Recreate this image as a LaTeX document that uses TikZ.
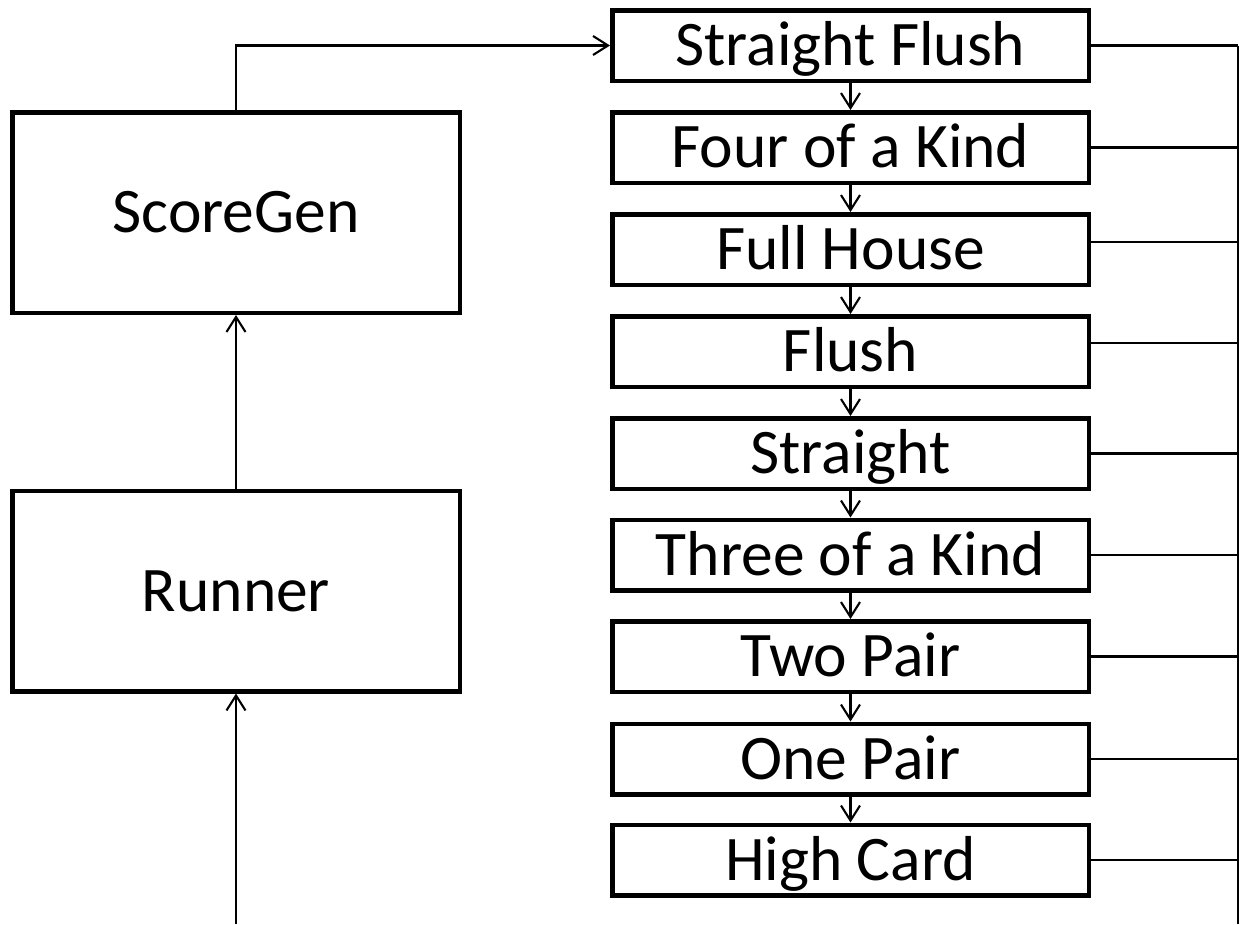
\documentclass[tikz,border=0pt]{standalone}
\usepackage{fontspec}
\setmainfont{Carlito}
\usetikzlibrary{arrows.meta}

\tikzset{
  block/.style={draw=black, line width=4.5pt, rectangle, inner sep=0pt,
    font=\fontsize{63.5}{72}\selectfont, text height=40.9pt, text depth=0pt,
    align=center},
  bigblock/.style={block, minimum width=447.5pt, minimum height=200.5pt},
  handblock/.style={block, minimum width=476.5pt, minimum height=70.5pt},
  flow/.style={line width=2.1pt, -{Straight Barb[length=15pt, width=19pt, line width=2.1pt]}},
  wire/.style={line width=2.1pt}
}

\begin{document}
\begin{tikzpicture}[x=1pt, y=-1pt]
  \useasboundingbox (0,0) rectangle (1246,924);
  \fill[white] (0,0) rectangle (1246,924);

  % program components
  \node[bigblock] (score)  at (236,212.5) {ScoreGen};
  \node[bigblock] (runner) at (236,591)   {Runner};

  % hand ranking checks, strongest first
  \node[handblock] (sf)  at (850.5,45.5)  {Straight Flush};
  \node[handblock] (fk)  at (850.5,147.5) {Four of a Kind};
  \node[handblock] (fh)  at (850.5,249.5) {Full House};
  \node[handblock] (fl)  at (850.5,351.5) {Flush};
  \node[handblock] (st)  at (850.5,453.5) {Straight};
  \node[handblock] (tk)  at (850.5,555)   {Three of a Kind};
  \node[handblock] (tp)  at (850.5,656.5) {Two Pair};
  \node[handblock] (op)  at (850.5,759)   {One Pair};
  \node[handblock] (hc)  at (850.5,860)   {High Card};

  % entry point and collecting rail
  \coordinate (entry)   at (236,924);
  \coordinate (railtop) at (1238,46);
  \coordinate (railbot) at (1238,924);

  % main control flow
  \draw[flow] (entry) -- (runner.south);
  \draw[flow] (runner.north) -- (score.south);
  \draw[flow] (score.north) |- (sf.west);

  % fall-through between checks
  \draw[flow] (sf.south) -- (fk.north);
  \draw[flow] (fk.south) -- (fh.north);
  \draw[flow] (fh.south) -- (fl.north);
  \draw[flow] (fl.south) -- (st.north);
  \draw[flow] (st.south) -- (tk.north);
  \draw[flow] (tk.south) -- (tp.north);
  \draw[flow] (tp.south) -- (op.north);
  \draw[flow] (op.south) -- (hc.north);

  % results gathered on the right
  \draw[wire] (railtop) -- (railbot);
  \draw[wire] (sf.east) -- (sf.east -| railtop);
  \draw[wire] (fk.east) -- (fk.east -| railtop);
  \draw[wire] ([yshift=7.5pt]fh.east) -- ([yshift=7.5pt]fh.east -| railtop);
  \draw[wire] ([yshift=8.5pt]fl.east) -- ([yshift=8.5pt]fl.east -| railtop);
  \draw[wire] (st.east) -- (st.east -| railtop);
  \draw[wire] (tk.east) -- (tk.east -| railtop);
  \draw[wire] (tp.east) -- (tp.east -| railtop);
  \draw[wire] (op.east) -- (op.east -| railtop);
  \draw[wire] (hc.east) -- (hc.east -| railtop);
\end{tikzpicture}
\end{document}
